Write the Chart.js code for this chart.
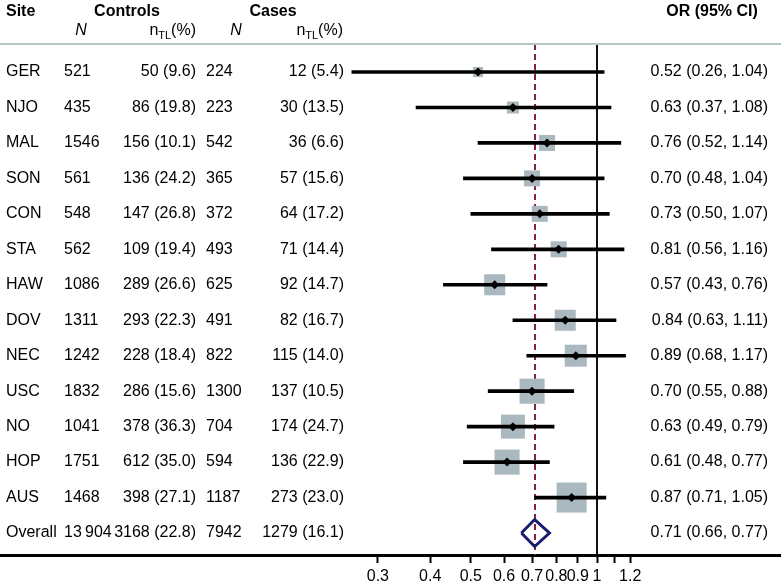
<!DOCTYPE html>
<html>
<head>
<meta charset="utf-8">
<script src="https://cdn.jsdelivr.net/npm/chart.js@4.4.0/dist/chart.umd.min.js"></script>
<style>
  html, body { margin: 0; padding: 0; background: #fff; }
  #wrap { width: 781px; height: 587px; }
</style>
</head>
<body>
<div id="wrap"><canvas id="forest"></canvas></div>
<script>
// rows, top to bottom; last row is the pooled estimate
var sites = ['GER', 'NJO', 'MAL', 'SON', 'CON', 'STA', 'HAW', 'DOV', 'NEC', 'USC', 'NO', 'HOP', 'AUS', 'Overall'];
var ctrlN = [521, 435, 1546, 561, 548, 562, 1086, 1311, 1242, 1832, 1041, 1751, 1468, 13904];
var ctrlTL = [50, 86, 156, 136, 147, 109, 289, 293, 228, 286, 378, 612, 398, 3168];
var ctrlPct = [9.6, 19.8, 10.1, 24.2, 26.8, 19.4, 26.6, 22.3, 18.4, 15.6, 36.3, 35.0, 27.1, 22.8];
var caseN = [224, 223, 542, 365, 372, 493, 625, 491, 822, 1300, 704, 594, 1187, 7942];
var caseTL = [12, 30, 36, 57, 64, 71, 92, 82, 115, 137, 174, 136, 273, 1279];
var casePct = [5.4, 13.5, 6.6, 15.6, 17.2, 14.4, 14.7, 16.7, 14.0, 10.5, 24.7, 22.9, 23.0, 16.1];
var oddsRatio = [0.52, 0.63, 0.76, 0.70, 0.73, 0.81, 0.57, 0.84, 0.89, 0.70, 0.63, 0.61, 0.87, 0.71];
var ciLow = [0.26, 0.37, 0.52, 0.48, 0.50, 0.56, 0.43, 0.63, 0.68, 0.55, 0.49, 0.48, 0.71, 0.66];
var ciHigh = [1.04, 1.08, 1.14, 1.04, 1.07, 1.16, 0.76, 1.11, 1.17, 0.88, 0.79, 0.77, 1.05, 0.77];
// study weights (%)
var weights = [1.9, 2.7, 4.8, 4.8, 4.8, 4.8, 8.3, 8.3, 9.1, 11.8, 10.8, 11.8, 16.9];
var tickValues = [0.3, 0.4, 0.5, 0.6, 0.7, 0.8, 0.9, 1, 1.1, 1.2];
var tickLabels = ['0.3', '0.4', '0.5', '0.6', '0.7', '0.8', '0.9', '1', '', '1.2'];

var FONT = '"Liberation Sans", Arial, Helvetica, sans-serif';
Chart.defaults.font.family = FONT;
Chart.defaults.font.size = 16;
Chart.defaults.color = '#000';

var nStudies = sites.length - 1;
var overallIdx = sites.length - 1;

function fmtN(n) {
    var s = String(n);
    return n >= 10000 ? s.replace(/\B(?=(\d{3})+$)/g, '\u2009') : s;
}

var boxes = [], bars = [], dots = [];
for (var i = 0; i < nStudies; i++) {
    boxes.push({ x: oddsRatio[i], y: i });
    bars.push({ x: [ciLow[i], ciHigh[i]], y: i });
    dots.push({ x: oddsRatio[i], y: i });
}
var dh = 0.38;
var diamond = [
    { x: ciLow[overallIdx], y: overallIdx },
    { x: oddsRatio[overallIdx], y: overallIdx - dh },
    { x: ciHigh[overallIdx], y: overallIdx },
    { x: oddsRatio[overallIdx], y: overallIdx + dh },
    { x: ciLow[overallIdx], y: overallIdx }
];

// reference lines (null effect and pooled estimate), under the marks
var refLines = {
    id: 'refLines',
    beforeDatasetsDraw: function (chart) {
        var ctx = chart.ctx, a = chart.chartArea, xs = chart.scales.x;
        ctx.save();
        var x1 = Math.round(xs.getPixelForValue(1));
        ctx.strokeStyle = '#111';
        ctx.lineWidth = 2;
        ctx.beginPath();
        ctx.moveTo(x1, a.top);
        ctx.lineTo(x1, a.bottom);
        ctx.stroke();
        var xo = Math.round(xs.getPixelForValue(oddsRatio[overallIdx]));
        ctx.strokeStyle = '#8b1e3f';
        ctx.setLineDash([6, 4]);
        ctx.beginPath();
        ctx.moveTo(xo, a.top);
        ctx.lineTo(xo, a.bottom);
        ctx.stroke();
        ctx.restore();
    }
};

// table text on both sides
var table = {
    id: 'table',
    afterDraw: function (chart) {
        var ctx = chart.ctx, ys = chart.scales.y;
        ctx.save();
        ctx.fillStyle = '#000';
        ctx.textBaseline = 'middle';

        // separator under the header
        ctx.strokeStyle = '#b5c6c4';
        ctx.lineWidth = 2;
        ctx.beginPath();
        ctx.moveTo(0, chart.chartArea.top);
        ctx.lineTo(chart.width, chart.chartArea.top);
        ctx.stroke();

        ctx.font = 'bold 16px ' + FONT;
        ctx.textAlign = 'left';
        ctx.fillText('Site', 6, 12);
        ctx.textAlign = 'center';
        ctx.fillText('Controls', 127, 12);
        ctx.fillText('Cases', 273, 12);
        ctx.fillText('OR (95% CI)', 712, 12);

        ctx.font = 'italic 16px ' + FONT;
        ctx.fillText('N', 81, 31);
        ctx.fillText('N', 236, 31);

        function nTL(right) {
            ctx.font = '16px ' + FONT;
            var wn = ctx.measureText('n').width, wp = ctx.measureText('(%)').width;
            ctx.font = '11px ' + FONT;
            var ws = ctx.measureText('TL').width;
            var x0 = right - wn - ws - wp;
            ctx.textAlign = 'left';
            ctx.font = '16px ' + FONT;
            ctx.fillText('n', x0, 31);
            ctx.fillText('(%)', x0 + wn + ws, 31);
            ctx.font = '11px ' + FONT;
            ctx.fillText('TL', x0 + wn, 36);
        }
        nTL(196);
        nTL(343);

        ctx.font = '16px ' + FONT;
        for (var i = 0; i < sites.length; i++) {
            var y = ys.getPixelForValue(i);
            ctx.textAlign = 'left';
            ctx.fillText(sites[i], 6, y);
            ctx.fillText(fmtN(ctrlN[i]), 64, y);
            ctx.fillText(String(caseN[i]), 206, y);
            ctx.textAlign = 'right';
            ctx.fillText(ctrlTL[i] + ' (' + ctrlPct[i].toFixed(1) + ')', 196, y);
            ctx.fillText(caseTL[i] + ' (' + casePct[i].toFixed(1) + ')', 344, y);
            ctx.fillText(oddsRatio[i].toFixed(2) + ' (' + ciLow[i].toFixed(2) + ', ' + ciHigh[i].toFixed(2) + ')', 768, y);
        }
        ctx.restore();
    }
};

var ctx = document.getElementById('forest').getContext('2d');
var forest = new Chart(ctx, {
    type: 'scatter',
    data: {
        datasets: [{
            label: 'weight',
            data: boxes,
            pointStyle: 'rect',
            pointRadius: weights.map(function (w) { return Math.sqrt(w) * 7.3 / Math.SQRT2; }),
            backgroundColor: '#aab9bf',
            borderWidth: 0,
            order: 4
        }, {
            type: 'bar',
            label: 'CI',
            data: bars,
            indexAxis: 'y',
            barThickness: 3,
            backgroundColor: '#000',
            order: 3
        }, {
            label: 'OR',
            data: dots,
            pointStyle: 'rectRot',
            pointRadius: 4.5,
            backgroundColor: '#000',
            borderWidth: 0,
            order: 2
        }, {
            label: 'Overall',
            data: diamond,
            showLine: true,
            borderColor: '#1c1a6e',
            borderWidth: 3,
            pointRadius: 0,
            fill: false,
            order: 1
        }]
    },
    options: {
        responsive: true,
        maintainAspectRatio: false,
        animation: false,
        layout: { autoPadding: false, padding: { top: 44, left: 0, right: 0, bottom: 0 } },
        plugins: {
            legend: { display: false },
            tooltip: { enabled: false }
        },
        scales: {
            x: {
                type: 'logarithmic',
                bounds: 'data',
                offset: false,
                min: Math.exp(-597 / 182),
                max: Math.exp(184 / 182),
                afterBuildTicks: function (s) {
                    s.ticks = tickValues.map(function (v) { return { value: v }; });
                },
                afterFit: function (s) {
                    s.height = 32;
                    s.paddingLeft = 0;
                    s.paddingRight = 0;
                },
                ticks: {
                    autoSkip: false,
                    maxRotation: 0,
                    padding: 4,
                    color: '#000',
                    font: { size: 16 },
                    callback: function (v, i) { return tickLabels[i]; }
                },
                grid: {
                    offset: false,
                    drawOnChartArea: false,
                    tickLength: 8,
                    tickWidth: 2,
                    color: '#000'
                },
                border: { display: true, color: '#000', width: 3 }
            },
            y: {
                type: 'linear',
                display: false,
                offset: false,
                grid: { offset: false },
                reverse: true,
                min: -0.79,
                max: 13.62
            }
        }
    },
    plugins: [refLines, table]
});
</script>
</body>
</html>
